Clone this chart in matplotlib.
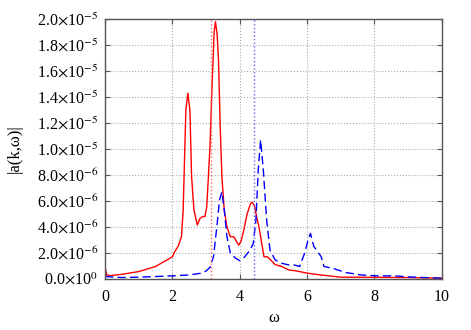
import matplotlib
matplotlib.use('Agg')
import matplotlib.pyplot as plt

plt.rcParams['font.family'] = ['Liberation Serif', 'DejaVu Serif']
plt.rcParams['mathtext.fontset'] = 'stix'

# |a(k,w)| in units of 1e-6
omega_red = [0, 0.05, 0.15, 0.5, 1.0, 1.5, 1.8, 2.0, 2.07, 2.17, 2.27, 2.32, 2.36, 2.40,
             2.46, 2.52, 2.57, 2.64, 2.74, 2.82, 2.9, 2.97, 3.02, 3.07, 3.12, 3.17,
             3.24, 3.28, 3.33, 3.37, 3.42, 3.47, 3.54, 3.62, 3.72, 3.82, 3.9, 3.97,
             4.04, 4.12, 4.22, 4.32, 4.37, 4.44, 4.5, 4.57, 4.62, 4.72, 4.82, 4.9,
             5.05, 5.25, 5.44, 5.7, 6.0, 6.4, 7.0, 8.0, 9.0, 10.0]
amp_red = [0.9, 0.3, 0.25, 0.35, 0.56, 0.95, 1.4, 1.7, 2.1, 2.5, 3.25, 5.3, 9.15, 13.0,
           14.3, 13.0, 7.9, 5.3, 4.15, 4.65, 4.8, 4.8, 5.56, 7.9, 10.4, 14.3,
           19.0, 19.8, 18.8, 16.8, 11.7, 7.9, 5.3, 4.0, 3.25, 3.25, 2.9, 2.6,
           2.9, 3.75, 5.0, 5.8, 5.9, 5.6, 4.8, 4.0, 3.25, 1.7, 1.7, 1.5,
           1.1, 0.95, 0.7, 0.6, 0.44, 0.3, 0.13, 0.12, 0.1, 0.05]

omega_blue = [0, 0.5, 1.0, 1.5, 2.0, 2.5, 2.82, 3.0, 3.12, 3.22, 3.32, 3.40, 3.47, 3.54,
              3.62, 3.72, 3.87, 4.0, 4.15, 4.3, 4.4, 4.48, 4.55, 4.62, 4.7, 4.8, 4.9,
              5.05, 5.25, 5.44, 5.6, 5.78, 5.93, 6.03, 6.1, 6.2, 6.42, 6.5, 6.75, 7.15,
              7.6, 8.1, 8.6, 9.0, 10.0]
amp_blue = [0.18, 0.1, 0.13, 0.18, 0.23, 0.3, 0.42, 0.6, 0.9, 1.7, 4.0, 6.1, 6.7, 5.3,
            3.25, 2.0, 1.6, 1.4, 1.7, 2.2, 2.7, 4.5, 8.4, 10.7, 8.4, 4.5, 2.2,
            1.46, 1.2, 1.08, 1.08, 0.95, 2.0, 3.0, 3.5, 2.5, 1.7, 0.95, 0.82, 0.49,
            0.3, 0.23, 0.23, 0.15, 0.05]

omega_marks = [3.14, 4.43]  # vertical reference lines (red, blue)

x_ticks = [0, 2, 4, 6, 8, 10]
y_ticks = [0, 2, 4, 6, 8, 10, 12, 14, 16, 18, 20]
y_labels = [r'0.0$\times$10$^{0}$', r'2.0$\times$10$^{-6}$', r'4.0$\times$10$^{-6}$',
            r'6.0$\times$10$^{-6}$', r'8.0$\times$10$^{-6}$', r'1.0$\times$10$^{-5}$',
            r'1.2$\times$10$^{-5}$', r'1.4$\times$10$^{-5}$', r'1.6$\times$10$^{-5}$',
            r'1.8$\times$10$^{-5}$', r'2.0$\times$10$^{-5}$']

fig = plt.figure(figsize=(4.71, 3.30), dpi=100)
ax = fig.add_axes([0.223, 0.155, 0.715, 0.787])

ax.plot(omega_red, amp_red, color='#ff0000', lw=1.0)
ax.plot(omega_blue, amp_blue, color='#0000ff', lw=1.0, dashes=(6, 3))
ax.axvline(omega_marks[0], color='#ff6060', ls=':', lw=1.0)
ax.axvline(omega_marks[1], color='#6060ff', ls=':', lw=1.0)

ax.set_xlim(0, 10)
ax.set_ylim(0, 20)
ax.set_xticks(x_ticks)
ax.set_yticks(y_ticks)
ax.set_yticklabels(y_labels)
ax.grid(True, color='#aaaaaa', ls=':', lw=0.8)
ax.tick_params(direction='in', top=True, right=True, labelsize=11.5, color='#555555')
ax.tick_params(axis='x', pad=7)
ax.tick_params(axis='y', pad=5)
for s in ax.spines.values():
    s.set_color('#555555')
    s.set_linewidth(1.0)

ax.set_xlabel('ω', fontsize=12, labelpad=4)
ax.set_ylabel('|a(k,ω)|', fontsize=12, labelpad=10)

fig.savefig('out.png', dpi=100)
